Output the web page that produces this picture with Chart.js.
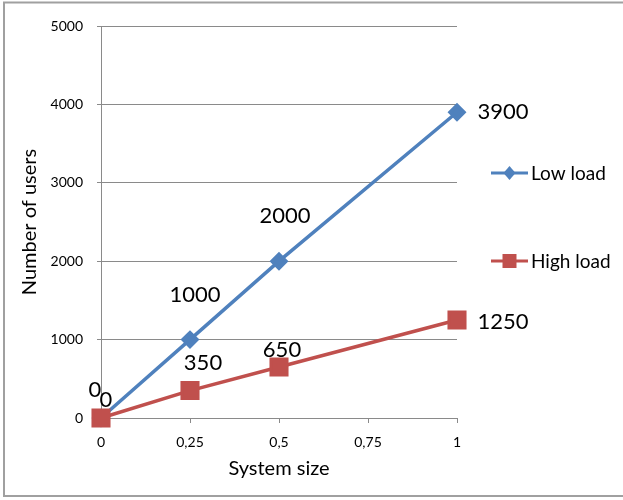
<!DOCTYPE html>
<html>
<head>
<meta charset="utf-8">
<script src="https://cdn.jsdelivr.net/npm/chart.js@4/dist/chart.umd.min.js"></script>
<style>
  html, body { margin: 0; padding: 0; background: #ffffff; }
  #wrap { width: 623px; height: 500px; position: relative; }
</style>
</head>
<body>
<div id="wrap"><canvas id="c" width="623" height="500"></canvas></div>
<script>
// ---- data ----
const systemSizes = [0, 0.25, 0.5, 1];
const lowLoadUsers = [0, 1000, 2000, 3900];
const highLoadUsers = [0, 350, 650, 1250];
const seriesNames = ['Low load', 'High load'];
const xTickValues = [0, 0.25, 0.5, 0.75, 1];
const xTickLabels = ['0', '0,25', '0,5', '0,75', '1'];
const yTickValues = [0, 1000, 2000, 3000, 4000, 5000];
const yTickLabels = ['0', '1000', '2000', '3000', '4000', '5000'];

// ---- styles ----
const BLUE = '#4F81BD';
const RED = '#C0504D';
const GRID = '#8a8a8a';
const FONT = 'Lato, "Open Sans", sans-serif';
// label offsets (px) relative to each point, per series
const labelOffsets = [
  [[-6, -28], [5, -45], [6, -45], [46, 0]],
  [[5, -18], [13, -28], [3, -17], [46, 2]]
];

const toPoints = (xs, ys) => xs.map((x, i) => ({ x: x, y: ys[i] }));

const dataLabels = {
  id: 'dataLabels',
  afterDatasetsDraw(chart) {
    const ctx = chart.ctx;
    ctx.save();
    ctx.font = '22px ' + FONT;
    ctx.fillStyle = '#000';
    ctx.textAlign = 'center';
    ctx.textBaseline = 'middle';
    chart.data.datasets.forEach((ds, di) => {
      const meta = chart.getDatasetMeta(di);
      meta.data.forEach((pt, i) => {
        const off = labelOffsets[di][i];
        ctx.fillText(String(ds.data[i].y), pt.x + off[0], pt.y + off[1]);
      });
    });
    ctx.restore();
  }
};

const customLegend = {
  id: 'customLegend',
  afterDraw(chart) {
    const ctx = chart.ctx;
    const ca = chart.chartArea;
    const x0 = ca.right + 34, x1 = ca.right + 71;
    const ys = [173, 261];
    ctx.save();
    chart.data.datasets.forEach((ds, di) => {
      const y = ys[di];
      ctx.strokeStyle = ds.borderColor;
      ctx.lineWidth = 3;
      ctx.beginPath();
      ctx.moveTo(x0, y);
      ctx.lineTo(x1, y);
      ctx.stroke();
      ctx.fillStyle = ds.pointBackgroundColor;
      const cx = (x0 + x1) / 2;
      ctx.beginPath();
      if (ds.pointStyle === 'rectRot') {
        ctx.moveTo(cx, y - 7); ctx.lineTo(cx + 6, y); ctx.lineTo(cx, y + 7); ctx.lineTo(cx - 6, y);
      } else {
        ctx.rect(cx - 7, y - 7, 14, 14);
      }
      ctx.closePath();
      ctx.fill();
      ctx.fillStyle = '#000';
      ctx.font = '19px ' + FONT;
      ctx.textAlign = 'left';
      ctx.textBaseline = 'middle';
      ctx.fillText(ds.label, x1 + 3, y + 1);
    });
    // outer frame
    ctx.strokeStyle = '#a0a0a0';
    ctx.lineWidth = 2;
    ctx.strokeRect(4, 2.5, 640, 493.5);
    ctx.restore();
  }
};

new Chart(document.getElementById('c'), {
  type: 'line',
  data: {
    datasets: [
      {
        label: seriesNames[0],
        data: toPoints(systemSizes, lowLoadUsers),
        borderColor: BLUE,
        backgroundColor: BLUE,
        pointBackgroundColor: BLUE,
        pointBorderColor: BLUE,
        pointStyle: 'rectRot',
        pointRadius: 7,
        borderWidth: 3.5,
        tension: 0,
        clip: false,
        order: 1
      },
      {
        label: seriesNames[1],
        data: toPoints(systemSizes, highLoadUsers),
        borderColor: RED,
        backgroundColor: RED,
        pointBackgroundColor: RED,
        pointBorderColor: RED,
        pointStyle: 'rect',
        pointRadius: 11,
        borderWidth: 3.5,
        tension: 0,
        clip: false,
        order: 0
      }
    ]
  },
  options: {
    responsive: false,
    animation: false,
    devicePixelRatio: 1,
    layout: { padding: { left: 0, right: 166, top: 26, bottom: 0 } },
    plugins: {
      legend: { display: false },
      tooltip: { enabled: false },
      title: { display: false }
    },
    scales: {
      x: {
        type: 'linear',
        min: 0,
        max: 1,
        afterBuildTicks(scale) { scale.ticks = xTickValues.map(v => ({ value: v })); },
        afterFit(scale) { scale.height = 82; },
        ticks: {
          callback(v) { const i = xTickValues.indexOf(v); return i >= 0 ? xTickLabels[i] : ''; },
          color: '#000',
          font: { family: FONT, size: 14 },
          padding: 11,
          maxRotation: 0,
          autoSkip: false
        },
        grid: { drawOnChartArea: false, drawTicks: true, tickLength: 5, color: GRID, lineWidth: 1 },
        border: { display: true, color: GRID, width: 1 },
        title: {
          display: true,
          text: 'System size',
          color: '#000',
          font: { family: FONT, size: 20 },
          padding: { top: 4, bottom: 19 }
        }
      },
      y: {
        type: 'linear',
        min: 0,
        max: 5000,
        afterBuildTicks(scale) { scale.ticks = yTickValues.map(v => ({ value: v })); },
        afterFit(scale) { scale.width = 101; },
        ticks: {
          callback(v) { const i = yTickValues.indexOf(v); return i >= 0 ? yTickLabels[i] : ''; },
          color: '#000',
          font: { family: FONT, size: 14 },
          padding: 14
        },
        grid: { color: GRID, lineWidth: 1, drawTicks: true, tickLength: 4 },
        border: { display: true, color: GRID, width: 1 },
        title: {
          display: true,
          text: 'Number of users',
          color: '#000',
          font: { family: FONT, size: 20 },
          padding: { top: 18, bottom: 4 }
        }
      }
    }
  },
  plugins: [dataLabels, customLegend]
});
</script>
</body>
</html>
